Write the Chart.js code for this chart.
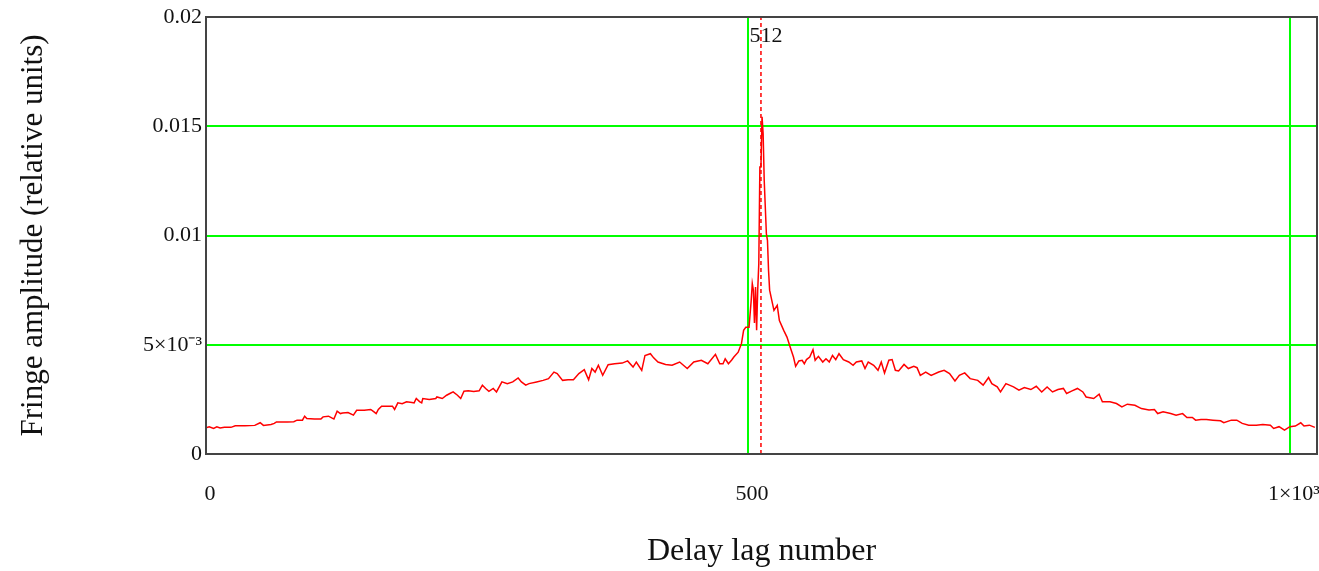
<!DOCTYPE html>
<html>
<head>
<meta charset="utf-8">
<script src="https://cdn.jsdelivr.net/npm/chart.js@4.4.1/dist/chart.umd.min.js"></script>
<style>
  html, body { margin: 0; padding: 0; background: #fff; }
  canvas { display: block; }
</style>
</head>
<body>
<canvas id="fringeChart" width="1319" height="571"></canvas>
<script>
// delay lag numbers (x) and fringe amplitude (y)
const lags = [
  0, 3, 7, 10, 13, 17, 23, 27, 36, 45, 50, 53, 60, 63, 65, 75, 81, 84, 89, 91,
  93, 100, 106, 108, 113, 116, 118, 121, 124, 126, 131, 136, 139, 146, 152, 155, 157, 159, 162, 172,
  174, 177, 181, 185, 190, 192, 194, 197, 199, 200, 206, 212, 213, 218, 222, 225, 228, 232, 235, 238,
  242, 247, 252, 255, 258, 261, 265, 268, 273, 278, 283, 288, 291, 295, 298, 305, 311, 316, 321, 324,
  329, 334, 339, 344, 349, 353, 356, 359, 362, 366, 371, 377, 384, 389, 394, 397, 402, 405, 410, 413,
  417, 424, 430, 437, 444, 450, 457, 463, 470, 474, 477, 479, 482, 485, 487, 491, 494, 496, 498, 501,
  503, 504, 505, 506, 507, 508, 509, 510, 511, 512, 513, 514, 515, 517, 518, 519, 520, 522, 524, 527,
  529, 533, 536, 539, 542, 544, 547, 550, 552, 554, 557, 560, 562, 565, 569, 572, 575, 578, 581, 584,
  588, 593, 597, 600, 605, 608, 611, 616, 620, 623, 626, 630, 633, 636, 639, 644, 648, 653, 656, 659,
  664, 669, 676, 681, 686, 691, 695, 700, 705, 712, 717, 722, 725, 730, 733, 738, 745, 750, 755, 761,
  766, 771, 776, 781, 786, 791, 794, 799, 804, 809, 812, 819, 824, 827, 834, 840, 845, 850, 857, 863,
  870, 875, 878, 883, 890, 895, 901, 905, 910, 913, 918, 923, 929, 936, 939, 946, 951, 956, 962, 969,
  975, 982, 985, 990, 995, 1000, 1005, 1010, 1013, 1018, 1023
];
const amplitude = [
  0.00120, 0.00125, 0.00117, 0.00124, 0.00119, 0.00122, 0.00122, 0.00129, 0.00129, 0.00131,
  0.00143, 0.00131, 0.00135, 0.00140, 0.00147, 0.00147, 0.00148, 0.00155, 0.00155, 0.00173,
  0.00162, 0.00160, 0.00160, 0.00170, 0.00173, 0.00165, 0.00160, 0.00196, 0.00185, 0.00188,
  0.00190, 0.00178, 0.00200, 0.00200, 0.00204, 0.00193, 0.00185, 0.00204, 0.00219, 0.00219,
  0.00204, 0.00234, 0.00230, 0.00239, 0.00236, 0.00234, 0.00254, 0.00240, 0.00234, 0.00254,
  0.00250, 0.00254, 0.00261, 0.00254, 0.00269, 0.00277, 0.00284, 0.00269, 0.00254, 0.00287,
  0.00289, 0.00286, 0.00289, 0.00315, 0.00300, 0.00287, 0.00300, 0.00284, 0.00330, 0.00322,
  0.00330, 0.00348, 0.00330, 0.00315, 0.00322, 0.00330, 0.00337, 0.00345, 0.00375, 0.00368,
  0.00337, 0.00340, 0.00340, 0.00368, 0.00386, 0.00340, 0.00391, 0.00375, 0.00406, 0.00360,
  0.00409, 0.00413, 0.00416, 0.00426, 0.00398, 0.00421, 0.00383, 0.00451, 0.00459, 0.00440,
  0.00421, 0.00410, 0.00406, 0.00421, 0.00391, 0.00421, 0.00429, 0.00413, 0.00456, 0.00413,
  0.00413, 0.00436, 0.00413, 0.00430, 0.00444, 0.00466, 0.00505, 0.00566, 0.00580, 0.00580,
  0.00703, 0.00780, 0.00750, 0.00600, 0.00764, 0.00566, 0.00750, 0.00871, 0.01314, 0.01314,
  0.01543, 0.01467, 0.01253, 0.01008, 0.00978, 0.00840, 0.00750, 0.00703, 0.00657, 0.00680,
  0.00611, 0.00566, 0.00535, 0.00489, 0.00444, 0.00401, 0.00426, 0.00429, 0.00413, 0.00432,
  0.00444, 0.00477, 0.00429, 0.00447, 0.00421, 0.00436, 0.00421, 0.00451, 0.00432, 0.00459,
  0.00432, 0.00421, 0.00406, 0.00421, 0.00426, 0.00391, 0.00421, 0.00406, 0.00383, 0.00421,
  0.00371, 0.00429, 0.00432, 0.00383, 0.00380, 0.00410, 0.00391, 0.00401, 0.00395, 0.00360,
  0.00375, 0.00360, 0.00375, 0.00383, 0.00368, 0.00334, 0.00360, 0.00371, 0.00345, 0.00337,
  0.00315, 0.00350, 0.00322, 0.00307, 0.00284, 0.00322, 0.00307, 0.00292, 0.00304, 0.00295,
  0.00310, 0.00284, 0.00307, 0.00284, 0.00295, 0.00300, 0.00277, 0.00289, 0.00300, 0.00284,
  0.00261, 0.00254, 0.00274, 0.00239, 0.00239, 0.00231, 0.00216, 0.00228, 0.00223, 0.00208,
  0.00201, 0.00204, 0.00185, 0.00193, 0.00185, 0.00178, 0.00185, 0.00167, 0.00167, 0.00155,
  0.00158, 0.00158, 0.00155, 0.00152, 0.00143, 0.00155, 0.00155, 0.00140, 0.00132, 0.00132,
  0.00135, 0.00132, 0.00117, 0.00125, 0.00109, 0.00125, 0.00128, 0.00143, 0.00128, 0.00132,
  0.00122
];

// marker (dashed red line) at the peak lag
const markerLag = 512;

// tick values and their labels
const xTicks = [0, 500, 1000];
const xTickLabels = ["0", "500", "1×10³"];
const yTicks = [0, 0.005, 0.01, 0.015, 0.02];
const yTickLabels = ["0", "5×10⁻³", "0.01", "0.015", "0.02"];

const serif = "'Liberation Serif', 'Times New Roman', serif";
const textColor = "#111";
const gridGreen = "#00ff00";

// frame round the plot area + marker value on top
const framePlugin = {
  id: "frame",
  afterDraw(chart) {
    const { ctx, chartArea: a, scales } = chart;
    ctx.save();
    ctx.strokeStyle = "#444";
    ctx.lineWidth = 2;
    ctx.strokeRect(a.left, a.top, a.right - a.left, a.bottom - a.top);
    const px = scales.x.getPixelForValue(markerLag);
    ctx.fillStyle = textColor;
    ctx.font = "22px " + serif;
    ctx.textAlign = "center";
    ctx.textBaseline = "middle";
    ctx.fillText(String(markerLag), px + 5, a.top + 19);
    ctx.restore();
  }
};

const ctx = document.getElementById("fringeChart").getContext("2d");
new Chart(ctx, {
  type: "line",
  data: {
    datasets: [
      {
        label: "marker",
        data: [{ x: markerLag, y: yTicks[0] }, { x: markerLag, y: yTicks[yTicks.length - 1] }],
        borderColor: "#ff0000",
        borderWidth: 1.5,
        borderDash: [4, 3],
        pointRadius: 0,
        fill: false,
      },
      {
        label: "amplitude",
        data: lags.map((x, i) => ({ x: x, y: amplitude[i] })),
        borderColor: "#ff0000",
        borderWidth: 1.5,
        pointRadius: 0,
        tension: 0,
        fill: false,
      },
    ],
  },
  options: {
    responsive: false,
    animation: false,
    layout: { padding: { left: 10, top: 17, right: 2, bottom: 0 } },
    plugins: {
      legend: { display: false },
      tooltip: { enabled: false },
    },
    scales: {
      x: {
        type: "linear",
        min: 0,
        max: 1025,
        afterBuildTicks: (scale) => { scale.ticks = xTicks.map(v => ({ value: v })); },
        afterFit: (scale) => {
          scale.height = 117;
          scale.paddingLeft = 0;
          scale.paddingRight = 0;
        },
        grid: { color: gridGreen, lineWidth: 2, drawTicks: false },
        border: { display: false },
        ticks: {
          padding: 27,
          labelOffset: 4,
          maxRotation: 0,
          color: textColor,
          font: { family: serif, size: 22 },
          callback: (v) => xTickLabels[xTicks.indexOf(v)],
        },
        title: {
          display: true,
          text: "Delay lag number",
          color: textColor,
          font: { family: serif, size: 32 },
          padding: { top: 0, bottom: 0 },
        },
      },
      y: {
        min: 0,
        max: 0.02,
        afterBuildTicks: (scale) => { scale.ticks = yTicks.map(v => ({ value: v })); },
        afterFit: (scale) => {
          scale.width = 196;
          scale.paddingTop = 0;
          scale.paddingBottom = 0;
        },
        grid: { color: gridGreen, lineWidth: 2, drawTicks: false },
        border: { display: false },
        ticks: {
          padding: 4,
          color: textColor,
          font: { family: serif, size: 22 },
          callback: (v) => yTickLabels[yTicks.indexOf(v)],
        },
        title: {
          display: true,
          text: "Fringe amplitude (relative units)",
          color: textColor,
          font: { family: serif, size: 31 },
          padding: { top: 5, bottom: 0 },
        },
      },
    },
  },
  plugins: [framePlugin],
});
</script>
</body>
</html>
